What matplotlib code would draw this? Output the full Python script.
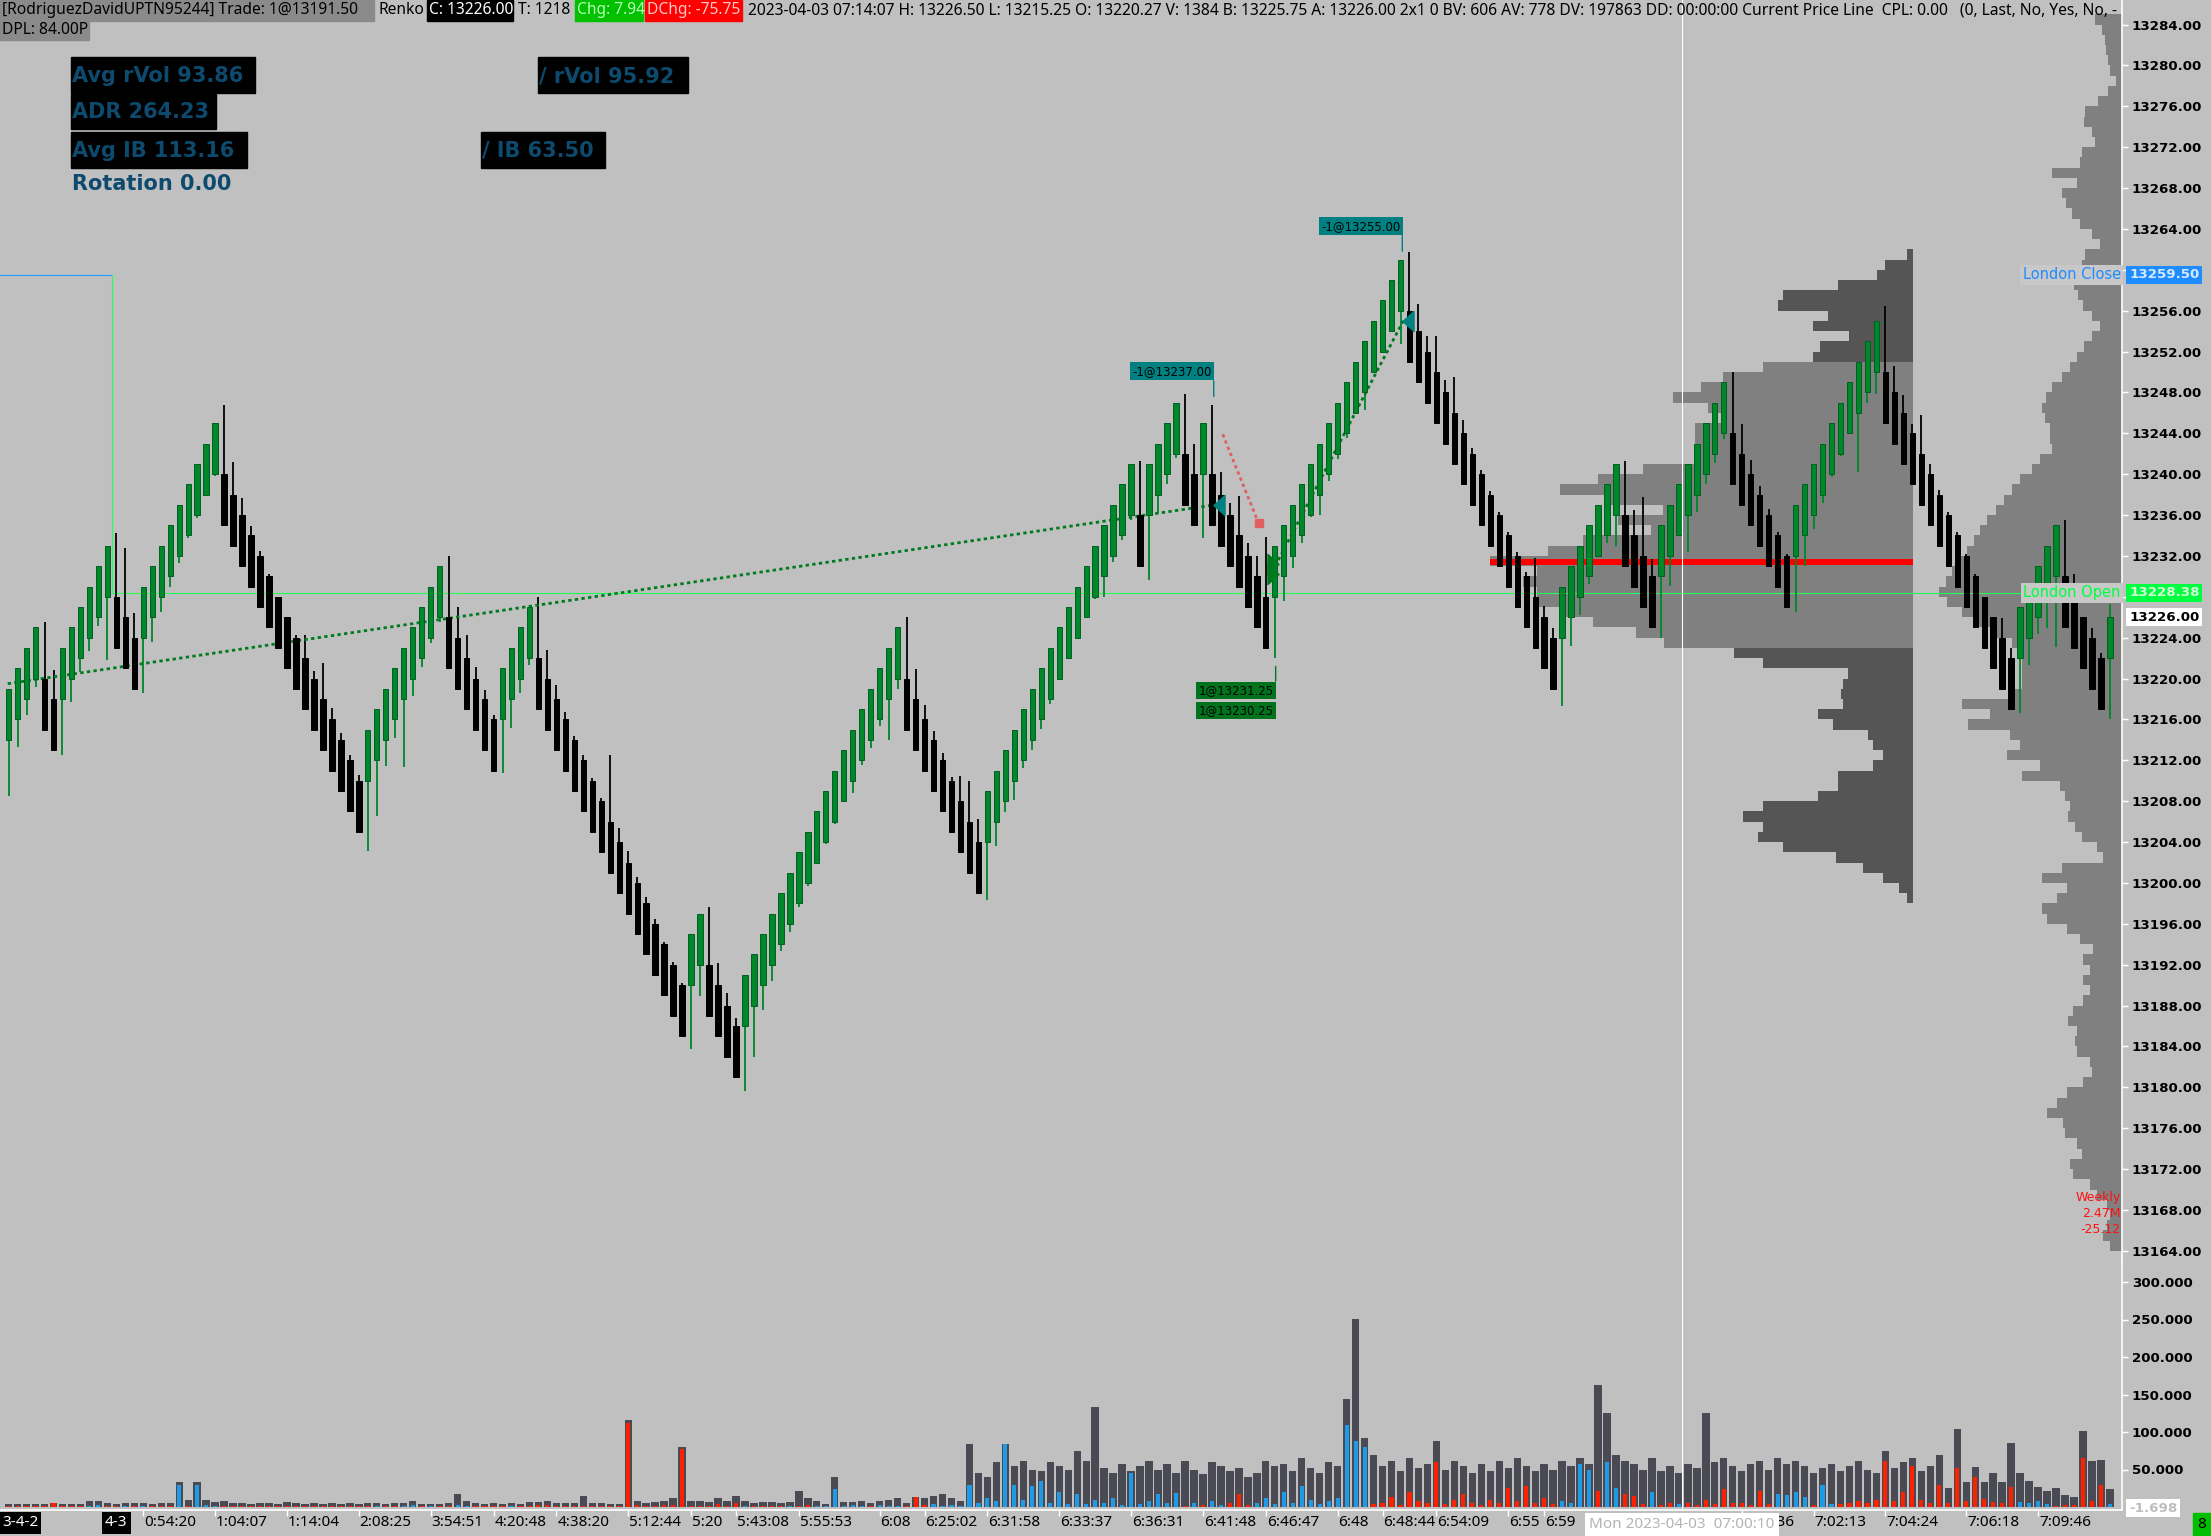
import numpy as np
import matplotlib.pyplot as plt
from matplotlib.patches import Rectangle
from matplotlib.path import Path
from matplotlib.transforms import blended_transform_factory

W, H = 2211, 1536
BG = '#c0c0c0'

# --- renko bars (one entry per brick) ---
opens = [
    13214, 13216, 13218, 13220, 13220, 13218, 13218, 13220, 13222, 13224,
    13226, 13228, 13228, 13226, 13224, 13224, 13226, 13228, 13230, 13232,
    13234, 13236, 13238, 13240, 13240, 13238, 13236, 13234, 13232, 13230,
    13228, 13226, 13224, 13222, 13220, 13218, 13216, 13214, 13212, 13210,
    13210, 13212, 13214, 13216, 13218, 13220, 13222, 13224, 13226, 13226,
    13224, 13222, 13220, 13218, 13216, 13216, 13218, 13220, 13222, 13222,
    13220, 13218, 13216, 13214, 13212, 13210, 13208, 13206, 13204, 13202,
    13200, 13198, 13196, 13194, 13192, 13190, 13190, 13192, 13192, 13190,
    13188, 13186, 13186, 13188, 13190, 13192, 13194, 13196, 13198, 13200,
    13202, 13204, 13206, 13208, 13210, 13212, 13214, 13216, 13218, 13220,
    13220, 13218, 13216, 13214, 13212, 13210, 13208, 13206, 13204, 13204,
    13206, 13208, 13210, 13212, 13214, 13216, 13218, 13220, 13222, 13224,
    13226, 13228, 13230, 13232, 13234, 13236, 13236, 13236, 13238, 13240,
    13242, 13242, 13240, 13240, 13240, 13238, 13236, 13234, 13232, 13230,
    13228, 13228, 13230, 13232, 13234, 13236, 13238, 13240, 13242, 13244,
    13246, 13248, 13250, 13252, 13254, 13256, 13256, 13254, 13252, 13250,
    13248, 13246, 13244, 13242, 13240, 13238, 13236, 13234, 13232, 13230,
    13228, 13226, 13224, 13224, 13226, 13228, 13230, 13232, 13234, 13236,
    13236, 13234, 13232, 13230, 13230, 13232, 13234, 13236, 13238, 13240,
    13242, 13244, 13244, 13242, 13240, 13238, 13236, 13234, 13232, 13232,
    13234, 13236, 13238, 13240, 13242, 13244, 13246, 13248, 13250, 13250,
    13248, 13246, 13244, 13242, 13240, 13238, 13236, 13234, 13232, 13230,
    13228, 13226, 13224, 13222, 13222, 13224, 13226, 13228, 13230, 13230,
    13228, 13226, 13224, 13222, 13222]
closes = [
    13219, 13221, 13223, 13225, 13215, 13213, 13223, 13225, 13227, 13229,
    13231, 13233, 13223, 13221, 13219, 13229, 13231, 13233, 13235, 13237,
    13239, 13241, 13243, 13245, 13235, 13233, 13231, 13229, 13227, 13225,
    13223, 13221, 13219, 13217, 13215, 13213, 13211, 13209, 13207, 13205,
    13215, 13217, 13219, 13221, 13223, 13225, 13227, 13229, 13231, 13221,
    13219, 13217, 13215, 13213, 13211, 13221, 13223, 13225, 13227, 13217,
    13215, 13213, 13211, 13209, 13207, 13205, 13203, 13201, 13199, 13197,
    13195, 13193, 13191, 13189, 13187, 13185, 13195, 13197, 13187, 13185,
    13183, 13181, 13191, 13193, 13195, 13197, 13199, 13201, 13203, 13205,
    13207, 13209, 13211, 13213, 13215, 13217, 13219, 13221, 13223, 13225,
    13215, 13213, 13211, 13209, 13207, 13205, 13203, 13201, 13199, 13209,
    13211, 13213, 13215, 13217, 13219, 13221, 13223, 13225, 13227, 13229,
    13231, 13233, 13235, 13237, 13239, 13241, 13231, 13241, 13243, 13245,
    13247, 13237, 13235, 13245, 13235, 13233, 13231, 13229, 13227, 13225,
    13223, 13233, 13235, 13237, 13239, 13241, 13243, 13245, 13247, 13249,
    13251, 13253, 13255, 13257, 13259, 13261, 13251, 13249, 13247, 13245,
    13243, 13241, 13239, 13237, 13235, 13233, 13231, 13229, 13227, 13225,
    13223, 13221, 13219, 13229, 13231, 13233, 13235, 13237, 13239, 13241,
    13231, 13229, 13227, 13225, 13235, 13237, 13239, 13241, 13243, 13245,
    13247, 13249, 13239, 13237, 13235, 13233, 13231, 13229, 13227, 13237,
    13239, 13241, 13243, 13245, 13247, 13249, 13251, 13253, 13255, 13245,
    13243, 13241, 13239, 13237, 13235, 13233, 13231, 13229, 13227, 13225,
    13223, 13221, 13219, 13217, 13227, 13229, 13231, 13233, 13235, 13225,
    13223, 13221, 13219, 13217, 13226]
highs = [
    13219, 13221, 13223, 13225, 13225.5, 13220.8, 13223, 13225, 13227, 13229,
    13231, 13233, 13234.2, 13232.8, 13226.4, 13229, 13231, 13233, 13235, 13237,
    13239, 13241, 13243, 13245, 13246.8, 13241.2, 13237.7, 13234.9, 13232.5, 13230.2,
    13228, 13226, 13224.3, 13224.3, 13220.7, 13221.5, 13217.1, 13214.7, 13212.5, 13210.6,
    13215, 13217, 13219, 13221, 13223, 13225, 13227, 13229, 13231, 13232,
    13227, 13224.3, 13221.1, 13218.9, 13216.4, 13221, 13223, 13225, 13227, 13228,
    13222.8, 13219.4, 13216.7, 13214.4, 13212.5, 13210.3, 13208.3, 13212.5, 13205.4, 13203.1,
    13200.6, 13198.6, 13196.5, 13194.2, 13192.3, 13190.2, 13195, 13197, 13197.6, 13192.2,
    13189.2, 13186.8, 13191, 13193, 13195, 13197, 13199, 13201, 13203, 13205,
    13207, 13209, 13211, 13213, 13215, 13217, 13219, 13221, 13223, 13225,
    13226, 13220.9, 13217.4, 13214.9, 13212.7, 13210.4, 13210.5, 13210, 13206.3, 13209,
    13211, 13213, 13215, 13217, 13219, 13221, 13223, 13225, 13227, 13229,
    13231, 13233, 13235, 13237, 13239, 13241, 13241.3, 13241, 13243, 13245,
    13247, 13247.8, 13243, 13245, 13246.8, 13240.2, 13237.2, 13237.9, 13233.3, 13232,
    13233.9, 13233, 13235, 13237, 13239, 13241, 13243, 13245, 13247, 13249,
    13251, 13253, 13255, 13257, 13259, 13261, 13261.7, 13256.7, 13253.5, 13253.5,
    13249.2, 13249.5, 13245.3, 13242.6, 13240.4, 13238.4, 13236.3, 13234.3, 13232.4, 13230.4,
    13231.8, 13227.1, 13224.9, 13229, 13231, 13233, 13235, 13237, 13239, 13241,
    13241.3, 13236.5, 13237.8, 13231.7, 13235, 13237, 13239, 13241, 13243, 13245,
    13247, 13249, 13250, 13244.9, 13241.4, 13238.8, 13236.6, 13234.3, 13232.2, 13237,
    13239, 13241, 13243, 13245, 13247, 13249, 13251, 13253, 13255, 13256.5,
    13250.6, 13247.7, 13244.9, 13245.8, 13241, 13238.5, 13236.3, 13234.3, 13232.2, 13230.2,
    13228, 13226, 13225.9, 13223, 13227, 13229, 13231, 13233, 13235, 13235.5,
    13230.2, 13226, 13224.9, 13222.5, 13227.3]
lows = [
    13208.5, 13213.3, 13216.4, 13219.2, 13215, 13213, 13212.5, 13217.7, 13220.6, 13222.7,
    13225.1, 13221.8, 13223, 13221, 13219, 13218.6, 13223.6, 13226.5, 13229, 13231.3,
    13233.8, 13235.7, 13238, 13239.8, 13235, 13233, 13231, 13229, 13227, 13225,
    13223, 13221, 13219, 13217, 13215, 13213, 13211, 13209, 13207, 13205,
    13203.1, 13206.6, 13211.4, 13214.2, 13211.3, 13218.3, 13221.1, 13223.5, 13225.5, 13221,
    13219, 13217, 13215, 13213, 13211, 13210.8, 13215.2, 13218.6, 13221.3, 13217,
    13215, 13213, 13211, 13209, 13207, 13205, 13203, 13201, 13199, 13197,
    13195, 13193, 13191, 13189, 13187, 13185, 13183.8, 13188.9, 13187, 13185,
    13183, 13181, 13179.6, 13183, 13187.6, 13190.4, 13193.3, 13195.2, 13197.6, 13199.7,
    13201.9, 13203.8, 13205.8, 13208, 13208.8, 13211.5, 13213.2, 13215.4, 13214, 13219,
    13215, 13213, 13211, 13209, 13207, 13205, 13203, 13201, 13199, 13198.3,
    13203.6, 13206.9, 13208.1, 13211.2, 13213, 13215.1, 13217.5, 13220, 13222, 13224,
    13226, 13227.8, 13228, 13231.4, 13233.6, 13235.5, 13231, 13229.6, 13236.2, 13239,
    13241.6, 13237, 13235, 13233.8, 13235, 13233, 13231, 13229, 13227, 13225,
    13223, 13222, 13227.6, 13230.8, 13233.3, 13235.8, 13236, 13239.3, 13241.5, 13243.5,
    13246, 13246.3, 13250, 13252, 13254, 13252.7, 13251, 13249, 13247, 13245,
    13243, 13241, 13239, 13237, 13235, 13233, 13231, 13229, 13227, 13225,
    13223, 13221, 13219, 13217.3, 13223.2, 13226.2, 13229.3, 13232, 13233.3, 13233,
    13231, 13229, 13227, 13225, 13224, 13229.1, 13234, 13232.4, 13236.3, 13239,
    13241.1, 13243.4, 13239, 13237, 13235, 13233, 13231, 13229, 13227, 13226.5,
    13231, 13234.6, 13237.2, 13239.7, 13241.8, 13244, 13240.2, 13247, 13247.8, 13245,
    13243, 13241, 13239, 13237, 13235, 13233, 13231, 13229, 13227, 13225,
    13223, 13221, 13219, 13217, 13216.6, 13221.3, 13224.4, 13224.9, 13223.1, 13225,
    13223, 13221, 13219, 13217, 13216]

# volume per brick and its delta (blue = buyers, red = sellers)
volume = [
    4, 3.5, 3.5, 3.5, 3.5, 6, 3.5, 3.5, 3.5, 8,
    8, 5, 4, 6, 5, 5, 4, 5, 5, 33,
    9, 33, 10, 7, 8, 5, 5, 4, 5, 5,
    4, 7, 5, 4, 5, 4, 5, 4, 5, 4,
    5, 5, 4, 5, 5, 8, 4, 4, 4, 5,
    18, 8, 5, 4, 5, 4, 5, 4, 7, 7,
    8, 5, 5, 5, 15, 5, 5, 4, 4, 116,
    8, 5, 7, 8, 12, 80, 8, 8, 7, 12,
    8, 15, 8, 5, 7, 7, 6, 7, 22, 12,
    8, 4, 40, 7, 7, 8, 6, 8, 10, 12,
    6, 13, 12, 15, 18, 12, 8, 84, 45, 40,
    60, 84, 55, 62, 50, 48, 60, 55, 50, 75,
    62, 133, 52, 45, 58, 48, 55, 62, 50, 58,
    45, 62, 50, 44, 60, 55, 48, 52, 40, 45,
    62, 55, 58, 48, 66, 52, 45, 60, 55, 144,
    251, 92, 70, 55, 62, 48, 65, 52, 58, 88,
    50, 62, 55, 45, 58, 48, 62, 52, 66, 55,
    48, 58, 50, 62, 55, 66, 58, 163, 125, 70,
    62, 58, 50, 66, 48, 55, 45, 58, 52, 125,
    60, 66, 55, 48, 58, 62, 50, 66, 58, 62,
    55, 45, 52, 58, 48, 55, 62, 50, 45, 75,
    52, 60, 66, 48, 55, 70, 25, 104, 33, 54,
    33, 45, 33, 85, 45, 35, 27, 21, 25, 16,
    13, 102, 61, 63, 24]
delta = [
    -1, -1, -1, -1, -1, -5, -1, -1, -1, 2,
    3, -1, -1, 1, -1, 2, -1, -1, -1, 30,
    -2, 30, 3, 2, -1, -1, -1, -1, -1, -1,
    -1, -2, -1, -1, -1, -1, -1, -1, -1, -1,
    -1, 1, -1, -1, 1, 3, -1, 1, -1, -1,
    3, 2, -1, -1, -1, -1, 1, -1, -1, -3,
    -3, -1, -1, -1, -2, -1, -1, -1, -1, -112,
    -3, -2, -2, -3, -3, -78, -2, -1, -1, -4,
    -1, -6, 2, -1, -1, -2, -1, 1, -2, -3,
    2, 1, 24, 2, 3, 2, -1, 3, 2, 1,
    -2, -13, -3, 4, 2, 3, 2, 30, 6, 12,
    8, 84, 30, 10, 28, 35, 6, 20, 4, 18,
    4, 10, 6, 12, 3, 45, 4, 8, 17, 6,
    19, -2, 5, -3, 8, 3, -6, -18, -3, 5,
    12, 4, 20, 6, 28, 10, 4, 8, 12, 110,
    88, 80, -4, -6, -14, -3, -20, -8, -5, -60,
    -4, -10, -17, -6, -3, -10, -6, -25, -8, -28,
    -5, -12, -4, 8, 6, 58, 50, -22, 60, 26,
    -18, -15, -4, 20, -3, -5, 4, -6, -3, -10,
    -4, -24, -6, -5, -3, -22, -4, 18, 16, 20,
    14, -3, 30, 4, -4, -6, -8, -5, -10, -62,
    -8, -20, -55, -10, -6, -30, -6, -52, -8, -40,
    -11, -7, -6, -27, 7, 6, 8, 4, -2, -3,
    -3, -66, -8, -30, 4]

# volume profiles (1 point rows, lower edge of row)
comp_levels = np.arange(13164, 13285)
comp_vol = [
    12, 19, 15, 12, 15, 25, 32, 49, 52, 40,
    45, 57, 59, 75, 65, 55, 39, 30, 32, 45,
    47, 45, 54, 49, 39, 32, 39, 32, 39, 29,
    42, 55, 75, 80, 65, 55, 80, 60, 19, 25,
    40, 47, 54, 52, 57, 62, 100, 82, 115, 102,
    112, 154, 132, 160, 110, 100, 100, 100, 102, 110,
    125, 145, 160, 175, 183, 176, 170, 162, 155, 148,
    142, 135, 126, 118, 110, 102, 90, 82, 70, 72,
    72, 77, 80, 76, 70, 60, 52, 45, 38, 30,
    22, 30, 39, 44, 48, 45, 40, 37, 22, 30,
    42, 50, 56, 60, 45, 70, 42, 40, 27, 30,
    38, 37, 24, 14, 6, 12, 14, 16, 17, 20,
    27]
sess_levels = np.arange(13198, 13262)
sess_vol = [
    6, 14, 30, 50, 77, 130, 155, 150, 170, 150,
    95, 75, 75, 40, 30, 40, 45, 80, 95, 70,
    72, 70, 65, 150, 179, 249, 277, 320, 348, 376,
    376, 390, 376, 423, 365, 330, 262, 295, 250, 305,
    353, 315, 270, 218, 214, 218, 218, 190, 205, 240,
    212, 190, 150, 100, 93, 64, 100, 85, 135, 130,
    75, 36, 28, 6]
va_low, va_high = 13223, 13250
poc = 13231.4

london_close = 13259.50
london_open = 13228.38
last_price = 13226.00
vol_last = -1.698

sell_bars = [134, 155]
sell_prices = [13237.00, 13255.00]
buy_bars = [141, 141]
buy_prices = [13231.25, 13230.25]

price_ticks = np.arange(13164, 13285, 4)
hidden_ticks = [13228, 13260]          # covered by the session tags
vol_ticks = [50, 100, 150, 200, 250, 300]

time_idx = [15, 23, 31, 39, 47, 54, 61, 69, 76, 81, 88, 97, 102, 109, 117,
            125, 133, 140, 148, 153, 159, 167, 171, 193, 201, 209, 218, 226]
time_lbl = ['0:54:20', '1:04:07', '1:14:04', '2:08:25', '3:54:51', '4:20:48',
            '4:38:20', '5:12:44', '5:20', '5:43:08', '5:55:53', '6:08', '6:25:02',
            '6:31:58', '6:33:37', '6:36:31', '6:41:48', '6:46:47', '6:48', '6:48:44',
            '6:54:09', '6:55', '6:59', '7:00:36', '7:02:13', '7:04:24', '7:06:18',
            '7:09:46']

# --- layout helpers (pixels of the canvas) ---
BAR_PX, BAR0_PX = 8.98, 8.6


def px2bar(px):
    return (px - BAR0_PX) / BAR_PX


AX_R, PRICE_BOT, VOL_BOT = 2122, 1258, 1510

fig = plt.figure(figsize=(W / 100, H / 100), dpi=100, facecolor=BG)
ax = fig.add_axes([0, 1 - PRICE_BOT / H, AX_R / W, PRICE_BOT / H], facecolor=BG)
axv = fig.add_axes([0, 1 - VOL_BOT / H, AX_R / W, (VOL_BOT - PRICE_BOT) / H], facecolor=BG)
ov = fig.add_axes([0, 0, 1, 1], facecolor='none')
ov.set_xlim(0, W)
ov.set_ylim(H, 0)
ov.axis('off')
ov.set_zorder(10)

x = np.arange(len(closes))
o = np.array(opens, float)
c = np.array(closes, float)
x_left, x_right = px2bar(0), px2bar(AX_R)

for a in (ax, axv):
    a.set_xlim(x_left, x_right)
    for s in ('top', 'left', 'bottom'):
        a.spines[s].set_visible(False)
    a.spines['right'].set_color('white')
    a.spines['right'].set_linewidth(1.2)
axv.spines['bottom'].set_visible(True)
axv.spines['bottom'].set_color('white')
axv.spines['bottom'].set_linewidth(1.2)

ax.set_ylim(13163.3, 13286.4)
axv.set_ylim(-4, 332)

# profiles
comp_w = np.array(comp_vol) / BAR_PX
ax.barh(comp_levels, comp_w, left=x_right - comp_w, height=1, align='edge',
        color='#808080', linewidth=0, antialiased=False, zorder=1)
sess_right = px2bar(1913)
sess_w = np.array(sess_vol) / BAR_PX
sess_col = ['#808080' if va_low <= p <= va_high else '#555555' for p in sess_levels]
ax.barh(sess_levels, sess_w, left=sess_right - sess_w, height=1, align='edge',
        color=sess_col, linewidth=0, antialiased=False, zorder=1.2)
ax.plot([px2bar(1490), sess_right], [poc, poc], color='#ff0000', lw=4.3,
        solid_capstyle='butt', zorder=2)

# london session lines
lx = px2bar(112)
ax.plot([x_left, lx], [london_close, london_close], color='#1ea0ff', lw=0.8, zorder=2)
ax.plot([lx, lx, x_right], [london_close, london_open, london_open], color='#22ff55',
        lw=0.8, zorder=2)

# trade lines
dot = (0, (1.2, 1.2))
ax.plot([-0.1, sell_bars[0] + 0.3], [13219.5, sell_prices[0]], color='#007a1e', lw=2.0,
        linestyle=dot, zorder=3.5)
ax.plot([buy_bars[0] + 0.4, sell_bars[1] + 0.3], [13231.6, sell_prices[1]],
        color='#007a1e', lw=2.0, linestyle=dot, zorder=3.5)
ax.plot([135.2, 139.2], [13243.9, 13235.2], color='#e06060', lw=2, linestyle=dot, zorder=3.5)
ax.plot([139.2], [13235.2], marker='s', ms=6, color='#e06060', zorder=3.5)

# candles
up = c >= o
body_col = np.where(up, '#00862b', '#000000')
edge_col = np.where(up, '#005f1e', '#000000')
ax.vlines(x, lows, highs, colors=body_col, lw=1.3, zorder=3)
ax.bar(x, np.abs(c - o), bottom=np.minimum(o, c), width=0.6, color=body_col,
       edgecolor=edge_col, linewidth=0.7, zorder=4)

# trade markers and labels
left_tri = Path([(-0.55, 0), (0.55, 1), (0.55, -1), (-0.55, 0)],
                [Path.MOVETO, Path.LINETO, Path.LINETO, Path.CLOSEPOLY])
right_tri = Path([(0.55, 0), (-0.55, 1), (-0.55, -1), (0.55, 0)],
                 [Path.MOVETO, Path.LINETO, Path.LINETO, Path.CLOSEPOLY])
for b, p in zip(sell_bars, sell_prices):
    ax.plot(b + 0.8, p, marker=left_tri, ms=14.5, color='#008080', ls='none', zorder=6)
    top = highs[b]
    ax.annotate('', xy=(b + 0.2, top), xytext=(0, 24), textcoords='offset pixels',
                arrowprops=dict(arrowstyle='-', color='#008080', lw=1, shrinkA=0, shrinkB=6),
                zorder=6)
    ax.annotate(f'-1@{p:.2f}', xy=(b + 0.2, top), xytext=(-2, 27), textcoords='offset pixels',
                ha='right', va='bottom', fontsize=8.5, family='DejaVu Sans', color='black',
                bbox=dict(boxstyle='square,pad=0.2', fc='#008080', ec='none'), zorder=7)
for k, (b, p) in enumerate(zip(buy_bars, buy_prices)):
    ax.plot(b - 0.2, p, marker=right_tri, ms=14.5, color='#007a1e', ls='none', zorder=6)
    bot = lows[b]
    if k == 0:
        ax.annotate('', xy=(b + 0.1, bot), xytext=(0, -23), textcoords='offset pixels',
                    arrowprops=dict(arrowstyle='-', color='#007a1e', lw=1, shrinkA=0, shrinkB=6),
                    zorder=6)
    ax.annotate(f'1@{p:.2f}', xy=(b + 0.1, bot), xytext=(-2, -26 - 20 * k),
                textcoords='offset pixels', ha='right', va='top', fontsize=8.5,
                family='DejaVu Sans', color='black',
                bbox=dict(boxstyle='square,pad=0.2', fc='#00731c', ec='none'), zorder=7)

# right side labels
ax.text(x_right - 0.15, london_close, 'London Close', ha='right', va='center', fontsize=10.5,
        family='DejaVu Sans', color='#1e8cff',
        bbox=dict(boxstyle='square,pad=0.15', fc='#c8c8c8', ec='none'), zorder=8)
ax.text(x_right - 0.15, london_open, 'London Open', ha='right', va='center', fontsize=10.5,
        family='DejaVu Sans', color='#00ff40',
        bbox=dict(boxstyle='square,pad=0.15', fc='#c8c8c8', ec='none'), zorder=8)
ax.text(x_right - 0.15, 13167.7, 'Weekly\n2.47M\n-25.12', ha='right', va='center',
        fontsize=9, family='DejaVu Sans', color='#ff1010', linespacing=1.3, zorder=8)

AXF = dict(fontfamily='DejaVu Sans', fontweight='bold', fontsize=9.6)


def tag(a, val, txt, fc, tc):
    a.annotate(txt, xy=(1, val), xycoords=('axes fraction', 'data'), xytext=(7, 0),
               textcoords='offset pixels', ha='left', va='center', color=tc,
               bbox=dict(boxstyle='square,pad=0.2', fc=fc, ec='none'),
               annotation_clip=False, zorder=20, **AXF)


tag(ax, london_close, f'{london_close:.2f}', '#1e8cff', '#d6eaff')
tag(ax, london_open, f'{london_open:.2f}', '#00ff40', '#d8ffd8')
tag(ax, last_price, f'{last_price:.2f}', 'white', 'black')
tag(axv, vol_last, f'{vol_last:.3f}', 'white', '#bdbdbd')

# axis ticks
ax.yaxis.tick_right()
ax.set_yticks(price_ticks)
ax.set_yticklabels(['' if v in hidden_ticks else f'{v:.2f}' for v in price_ticks])
ax.set_xticks([])
axv.yaxis.tick_right()
axv.set_yticks(vol_ticks)
axv.set_yticklabels([f'{v:.3f}' for v in vol_ticks])
axv.set_xticks(time_idx)
axv.tick_params(axis='x', colors='white', length=4, width=1, labelbottom=False)
for a in (ax, axv):
    a.tick_params(axis='y', colors='white', labelcolor='black', length=4, width=1, pad=3)
    for lbl in a.get_yticklabels():
        lbl.set_fontfamily(AXF['fontfamily'])
        lbl.set_fontweight(AXF['fontweight'])
        lbl.set_fontsize(AXF['fontsize'])

# volume pane
vol = np.array(volume, float)
d = np.array(delta, float)
axv.bar(x, vol, width=0.82, color='#4a4a55', linewidth=0, zorder=2)
axv.bar(x, np.abs(d), width=0.46, color=np.where(d >= 0, '#1e9be6', '#ff2000'),
        linewidth=0, zorder=3)

# crosshair
cross = px2bar(1682)
ax.axvline(cross, color='white', lw=0.8, zorder=9)
axv.axvline(cross, color='white', lw=0.8, zorder=9)

# time labels
tr = blended_transform_factory(axv.transData, ov.transData)
for t, s in zip(time_idx, time_lbl):
    ov.text(t + 0.1, 1523, s, transform=tr, ha='left', va='center', fontsize=11,
            family='Noto Sans', color='black')
ov.text(2, 1523, '3-4-2', ha='left', va='center', fontsize=11, family='Noto Sans',
        color='white', bbox=dict(boxstyle='square,pad=0.2', fc='black', ec='none'))
ov.text(12, 1523, '4-3', transform=tr, ha='center', va='center', fontsize=11,
        family='Noto Sans', color='white',
        bbox=dict(boxstyle='square,pad=0.2', fc='black', ec='none'))
ov.text(cross, 1525, 'Mon 2023-04-03  07:00:10', transform=tr, ha='center', va='center',
        fontsize=11, family='Noto Sans', color='#b4b4b4',
        bbox=dict(boxstyle='square,pad=0.3', fc='white', ec='none'), zorder=5)
ov.add_patch(Rectangle((2193, 1513), 18, 23, color='#00c000'))
ov.text(2202, 1525, '8', ha='center', va='center', fontsize=11, family='Noto Sans',
        color='black')

# header line
renderer = fig.canvas.get_renderer()
long_txt = ('2023-04-03 07:14:07 H: 13226.50 L: 13215.25 O: 13220.27 V: 1384 '
            'B: 13225.75 A: 13226.00 2x1 0 BV: 606 AV: 778 DV: 197863 DD: 00:00:00 '
            'Current Price Line  CPL: 0.00   (0, Last, No, Yes, No, -')
probe = ov.text(0, 0, long_txt, fontsize=10, family='Noto Sans')
hfs = 10 * 1372 / probe.get_window_extent(renderer=renderer).width
probe.remove()

header = [
    (0, 374, '[RodriguezDavidUPTN95244] Trade: 1@13191.50', '#8a8a8a', 'black'),
    (376, None, 'Renko', None, 'black'),
    (427, 513, 'C: 13226.00', 'black', 'white'),
    (516, None, 'T: 1218', None, 'black'),
    (575, 643, 'Chg: 7.94', '#00c000', '#b8ffb8'),
    (645, 742, 'DChg: -75.75', '#ff0000', '#ffc8c8'),
    (746, None, long_txt, None, 'black'),
]
for x0, x1, s, fc, tc in header:
    if fc is not None:
        ov.add_patch(Rectangle((x0, 0), x1 - x0, 21, color=fc, zorder=1))
    ov.text(x0 + 2, 10.5, s, ha='left', va='center', fontsize=hfs, family='Noto Sans',
            color=tc, zorder=2)
ov.add_patch(Rectangle((0, 21), 89, 19, color='#8a8a8a', zorder=1))
ov.text(2, 30.5, 'DPL: 84.00P', ha='left', va='center', fontsize=hfs, family='Noto Sans',
        color='black', zorder=2)

# study readouts
INFO = '#0d4a6e'
info = [
    ((71, 57, 255, 93), 'Avg rVol 93.86'),
    ((71, 94, 216, 129), 'ADR 264.23'),
    ((71, 132, 247, 168), 'Avg IB 113.16'),
    ((538, 57, 688, 93), '/ rVol 95.92'),
    ((481, 132, 605, 168), '/ IB 63.50'),
]
for (x0, y0, x1, y1), s in info:
    ov.add_patch(Rectangle((x0, y0), x1 - x0, y1 - y0, color='black', zorder=1))
    ov.text(x0 + 1, (y0 + y1) / 2 + 1, s, ha='left', va='center', fontsize=15,
            family='DejaVu Sans', weight='bold', color=INFO, zorder=2)
ov.text(72, 184, 'Rotation 0.00', ha='left', va='center', fontsize=15, family='DejaVu Sans',
        weight='bold', color=INFO, zorder=2)

fig.savefig('out.png', dpi=100, facecolor=BG)
